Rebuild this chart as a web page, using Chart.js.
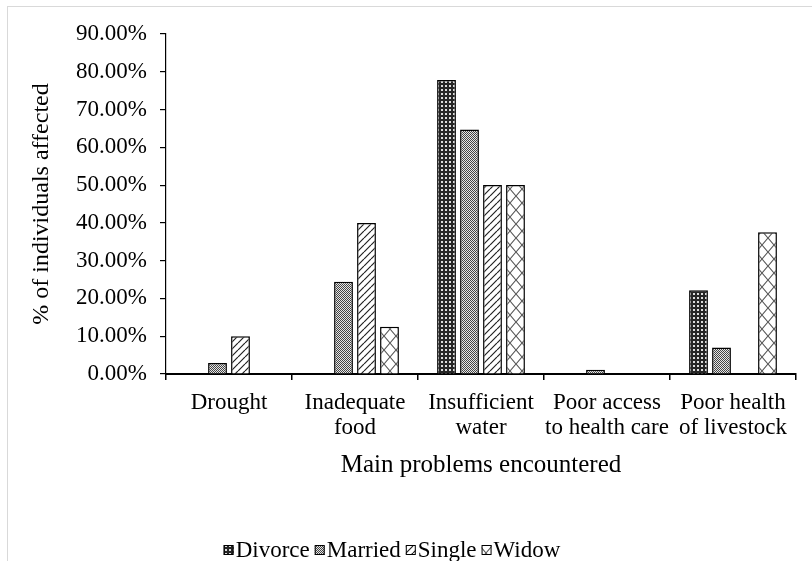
<!DOCTYPE html>
<html>
<head>
<meta charset="utf-8">
<script src="https://cdn.jsdelivr.net/npm/chart.js@4/dist/chart.umd.min.js"></script>
<style>
  html, body { margin: 0; padding: 0; background: #fff; overflow: hidden; width: 812px; height: 561px; }
  #frame { position: absolute; left: 7px; top: 6px; width: 900px; height: 700px; border: 1px solid #d9d9d9; box-sizing: border-box; }
  canvas { position: absolute; left: 0; top: 0; }
</style>
</head>
<body>
<div id="frame"></div>
<canvas id="chart" width="812" height="561"></canvas>
<script>
// Problem categories (multi-line tick labels)
const categories = [
  ['Drought'],
  ['Inadequate', 'food'],
  ['Insufficient', 'water'],
  ['Poor access', 'to health care'],
  ['Poor health', 'of livestock']
];

// Share of individuals affected (%), by marital status
const divorceValues = [0, 0, 77.8, 0, 22.2];
const marriedValues = [2.9, 24.4, 64.7, 1.1, 7.0];
const singleValues  = [10.0, 40.0, 50.0, 0, 0];
const widowValues   = [0, 12.5, 50.0, 0, 37.5];

const seriesNames = ['Divorce', 'Married', 'Single', 'Widow'];

// Y axis range
const yMin = 0;
const yMax = 90;
const yStep = 10;

const FONT = '"Liberation Serif", "Times New Roman", serif';

// ---- fill patterns for the bars ----
function makePattern(w, h, paint) {
  const c = document.createElement('canvas');
  c.width = w; c.height = h;
  const g = c.getContext('2d');
  paint(g, w, h);
  return g.createPattern(c, 'repeat');
}

const dottedDark = makePattern(4, 4, (g, w, h) => {
  g.fillStyle = '#262626'; g.fillRect(0, 0, w, h);
  g.fillStyle = '#dcdcdc'; g.fillRect(1, 1, 2, 2);
});

const checkerGray = makePattern(2, 2, (g) => {
  g.fillStyle = '#e6e6e6'; g.fillRect(0, 0, 2, 2);
  g.fillStyle = '#444'; g.fillRect(0, 0, 1, 1); g.fillRect(1, 1, 1, 1);
});

const diagonalLines = makePattern(7, 7, (g, w, h) => {
  g.fillStyle = '#ffffff'; g.fillRect(0, 0, w, h);
  g.strokeStyle = '#222'; g.lineWidth = 1.2;
  g.beginPath();
  for (const k of [-w, 0, w]) { g.moveTo(k, h); g.lineTo(k + w, 0); }
  g.stroke();
});

const crossHatch = makePattern(12, 14, (g, w, h) => {
  g.fillStyle = '#ffffff'; g.fillRect(0, 0, w, h);
  g.strokeStyle = '#555'; g.lineWidth = 1.1;
  g.beginPath();
  g.moveTo(0, 0); g.lineTo(w, h);
  g.moveTo(0, h); g.lineTo(w, 0);
  g.stroke();
});

const fills = [dottedDark, checkerGray, diagonalLines, crossHatch];
const seriesValues = [divorceValues, marriedValues, singleValues, widowValues];

// ---- legend drawn below the chart with pattern swatches ----
const patternLegend = {
  id: 'patternLegend',
  afterDraw(chart) {
    const ctx = chart.ctx;
    ctx.save();
    ctx.font = '23px ' + FONT;
    ctx.textBaseline = 'middle';
    ctx.textAlign = 'left';
    const box = 10, gap = 2, space = 5;
    const items = chart.data.datasets.map(d => ({
      label: d.label,
      fill: d.backgroundColor,
      w: box + gap + ctx.measureText(d.label).width
    }));
    const total = items.reduce((s, it) => s + it.w, 0) + space * (items.length - 1);
    let x = 392 - total / 2;
    const y = 551;
    for (const it of items) {
      ctx.fillStyle = it.fill;
      ctx.fillRect(x, y - 6, box, box);
      ctx.strokeStyle = '#000';
      ctx.lineWidth = 1;
      ctx.strokeRect(x + 0.5, y - 5.5, box - 1, box - 1);
      ctx.fillStyle = '#000';
      ctx.fillText(it.label, x + box + gap, y);
      x += it.w + space;
    }
    ctx.restore();
  }
};

new Chart(document.getElementById('chart'), {
  type: 'bar',
  data: {
    labels: categories,
    datasets: seriesNames.map((name, i) => ({
      label: name,
      data: seriesValues[i],
      backgroundColor: fills[i],
      borderColor: '#000',
      borderWidth: 1.5,
      categoryPercentage: 0.73,
      barPercentage: 0.82
    }))
  },
  options: {
    responsive: false,
    animation: false,
    devicePixelRatio: 1,
    layout: { padding: { top: 34, right: 16, bottom: 0, left: 0 } },
    plugins: {
      legend: { display: false },
      tooltip: { enabled: false }
    },
    scales: {
      x: {
        afterFit(scale) { scale.height = 187; },
        grid: { display: true, drawOnChartArea: false, drawTicks: true, tickLength: 6, color: '#000', lineWidth: 1.5, offset: true },
        border: { display: true, color: '#000', width: 2 },
        ticks: { color: '#000', font: { family: FONT, size: 23, lineHeight: 1.09 }, padding: 10, maxRotation: 0, autoSkip: false },
        title: {
          display: true,
          text: 'Main problems encountered',
          color: '#000',
          font: { family: FONT, size: 25 },
          padding: { top: 0, bottom: 81 }
        }
      },
      y: {
        min: yMin,
        max: yMax,
        afterFit(scale) { scale.width = 166; },
        grid: { display: true, drawOnChartArea: false, drawTicks: true, tickLength: 6, color: '#000', lineWidth: 1.2 },
        border: { display: true, color: '#000', width: 1.2 },
        ticks: {
          stepSize: yStep,
          color: '#000',
          padding: 13,
          font: { family: FONT, size: 23 },
          callback: (v) => v.toFixed(2) + '%'
        },
        title: {
          display: true,
          text: '% of individuals affected',
          color: '#000',
          font: { family: FONT, size: 24 },
          padding: { top: 27.6, bottom: 0 }
        }
      }
    }
  },
  plugins: [patternLegend]
});
</script>
</body>
</html>
